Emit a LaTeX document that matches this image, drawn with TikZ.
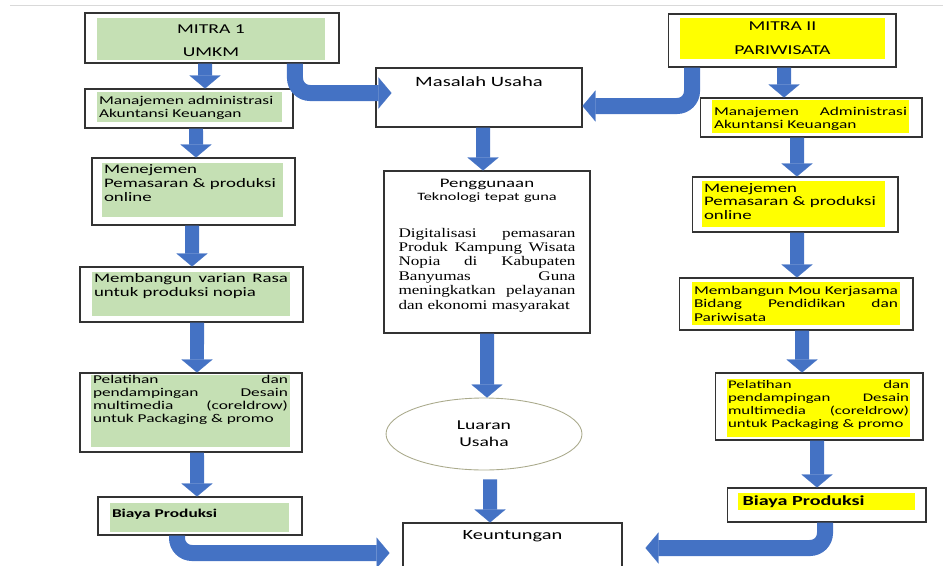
\documentclass[tikz,border=0pt]{standalone}
\usepackage{fontspec}
\setmainfont{Carlito}[FakeStretch=1.45]
\newfontfamily\bodyserif{Liberation Serif}[FakeStretch=1.3]
\usetikzlibrary{shapes.geometric,arrows.meta}
\definecolor{umkmgreen}{RGB}{197,224,180}
\definecolor{wisatayellow}{RGB}{255,255,0}
\definecolor{flowblue}{RGB}{68,114,196}
\definecolor{ringgray}{RGB}{170,170,140}
\tolerance=10000
\hbadness=10000
\tikzset{
  frame/.style={shape=rectangle,draw=black!80,fill=white,line width=0.6pt,inner sep=0pt},
  hilite/.style={shape=rectangle,inner xsep=0.04cm,inner ysep=0pt,align=justify,font=\fontsize{6.8}{7.5}\selectfont},
  flow/.style={draw=flowblue,line width=0.28cm,-{Triangle[width=0.62cm,length=0.26cm,line width=0.1pt]}},
  bentflow/.style={flow,line width=0.32cm,rounded corners=0.3cm},
}

\begin{document}
\begin{tikzpicture}[x=0.02cm,y=-0.02cm]
\useasboundingbox (0,0) rectangle (943,565);
\draw[black!15,line width=0.4pt] (10,5) -- (943,5);

\node[frame,minimum width=5.08cm,minimum height=1.00cm] (0) at (212,38) {};
\node[hilite,fill=umkmgreen,text width=4.48cm,text height=0.30cm,text depth=0.54cm,align=center,font=\fontsize{7.7}{13.6}\selectfont] (0t) at (211,39) {MITRA 1\\UMKM};
\node[frame,minimum width=4.16cm,minimum height=0.78cm] (1) at (189,108.5) {};
\node[hilite,fill=umkmgreen,text width=3.62cm,text height=0.24cm,text depth=0.36cm,align=left,font=\fontsize{6.8}{7.9}\selectfont] (1t) at (189.5,107) {Manajemen administrasi\\Akuntansi Keuangan};
\node[frame,minimum width=4.06cm,minimum height=1.34cm] (2) at (193.5,191.5) {};
\node[hilite,fill=umkmgreen,text width=3.54cm,text height=0.20cm,text depth=0.88cm,align=left,font=\fontsize{7.4}{8.2}\selectfont] (2t) at (192.5,190) {Menejemen\\Pemasaran \& produksi\\online};
\node[frame,minimum width=4.46cm,minimum height=1.10cm] (3) at (191.5,294.5) {};
\node[hilite,fill=umkmgreen,text width=3.88cm,text height=0.20cm,text depth=0.68cm,font=\fontsize{7.4}{8.2}\selectfont] (3t) at (191,294) {Membangun varian Rasa\linebreak untuk produksi nopia};
\node[frame,minimum width=4.44cm,minimum height=1.58cm] (4) at (191,412.5) {};
\node[hilite,fill=umkmgreen,text width=3.90cm,text height=0.16cm,text depth=1.28cm] (4t) at (190.5,411) {Pelatihan dan\linebreak pendampingan Desain\linebreak multimedia (coreldrow)\linebreak untuk Packaging \& promo};
\node[frame,minimum width=4.08cm,minimum height=0.76cm] (5) at (200,516) {};
\node[hilite,fill=umkmgreen,text width=3.50cm,text height=0.28cm,text depth=0.30cm,align=left,font=\bfseries\fontsize{6.8}{8}\selectfont] (5t) at (199.5,517.5) {Biaya Produksi};

\node[frame,minimum width=4.12cm,minimum height=1.18cm,text height=0.36cm,text depth=0.82cm,font=\fontsize{8.1}{9}\selectfont] (6) at (479,97.5) {Masalah Usaha};
\node[frame,minimum width=4.12cm,minimum height=3.24cm] (7) at (487,252) {};
\node[anchor=base,inner sep=0pt,text width=3.54cm,align=center,font=\fontsize{7.4}{7.9}\selectfont] (7t) at (487,187) {Penggunaan\\{\fontsize{6.4}{7.9}\selectfont Teknologi tepat guna}};
\node[anchor=base,inner sep=0pt,text width=3.54cm,align=justify,font=\bodyserif\fontsize{7.5}{8.2}\selectfont] (7b) at (487,237) {Digitalisasi pemasaran\linebreak Produk Kampung Wisata\linebreak Nopia di Kabupaten\linebreak Banyumas Guna\linebreak meningkatkan pelayanan\linebreak dan ekonomi masyarakat};
\node[ellipse,draw=ringgray,line width=0.5pt,minimum width=3.92cm,minimum height=1.44cm,inner sep=0pt,align=center,font=\fontsize{7.7}{9.6}\selectfont] (8) at (484,434) {Luaran\\Usaha};
\node[frame,minimum width=4.38cm,minimum height=1.20cm,text height=0.32cm,text depth=0.88cm,font=\fontsize{8}{9}\selectfont] (9) at (512.5,553) {Keuntungan};

\node[frame,minimum width=4.56cm,minimum height=1.06cm] (10) at (782,40.5) {};
\node[hilite,fill=wisatayellow,text width=4.02cm,text height=0.24cm,text depth=0.58cm,align=center,font=\fontsize{7.7}{14.2}\selectfont] (10t) at (782.5,38.5) {MITRA II\\PARIWISATA};
\node[frame,minimum width=4.44cm,minimum height=0.78cm] (11) at (811,117.5) {};
\node[hilite,fill=wisatayellow,text width=3.86cm,text height=0.30cm,text depth=0.36cm,font=\fontsize{6.8}{7.4}\selectfont] (11t) at (810.5,116.5) {Manajemen Administrasi\linebreak Akuntansi Keuangan};
\node[frame,minimum width=4.12cm,minimum height=1.10cm] (12) at (795,204.5) {};
\node[hilite,fill=wisatayellow,text width=3.58cm,text height=0.22cm,text depth=0.70cm,align=left,font=\fontsize{7.4}{7.8}\selectfont] (12t) at (793.5,204) {Menejemen\\Pemasaran \& produksi\\online};
\node[frame,minimum width=4.68cm,minimum height=1.04cm] (13) at (796,304) {};
\node[hilite,fill=wisatayellow,text width=4.08cm,text height=0.24cm,text depth=0.62cm,font=\fontsize{6.8}{7.7}\selectfont] (13t) at (796,303.5) {Membangun Mou Kerjasama\linebreak Bidang Pendidikan dan\linebreak Pariwisata};
\node[frame,minimum width=4.16cm,minimum height=1.34cm] (14) at (819,406.5) {};
\node[hilite,fill=wisatayellow,inner xsep=0.02cm,text width=3.62cm,text height=0.18cm,text depth=0.98cm,font=\fontsize{6.6}{7.5}\selectfont] (14t) at (818.5,408) {Pelatihan dan\linebreak pendampingan Desain\linebreak multimedia (coreldrow)\linebreak untuk Packaging \& promo};
\node[frame,minimum width=3.98cm,minimum height=0.68cm] (15) at (826.5,505) {};
\node[hilite,fill=wisatayellow,text width=3.46cm,text height=0.24cm,text depth=0.10cm,align=left,font=\bfseries\fontsize{7.9}{9}\selectfont] (15t) at (826.5,501.5) {\hspace{0.05cm}Biaya Produksi};

\draw[flow] ([xshift=-0.14cm]0.south) -- ([xshift=0.32cm]1.north);
\draw[flow] ([xshift=0.14cm]1.south) -- ([xshift=0.05cm]2.north);
\draw[flow] ([xshift=-0.03cm]2.south) -- ([xshift=0.01cm]3.north);
\draw[flow] ([xshift=0.11cm]3.south) -- ([xshift=0.12cm]4.north);
\draw[flow] ([xshift=0.12cm]4.south) -- ([xshift=-0.06cm]5.north);
\draw[flow] ([xshift=0.08cm]6.south) -- ([xshift=-0.08cm]7.north);
\draw[flow] (7.south) -- ([xshift=0.06cm]8.north);
\draw[flow,shorten <=0.18cm] ([xshift=0.12cm]8.south) -- ([xshift=-0.45cm]9.north);
\draw[flow] ([xshift=0.04cm]10.south) -- ([xshift=-0.54cm]11.north);
\draw[flow] ([xshift=-0.28cm]11.south) -- ([xshift=0.04cm]12.north);
\draw[flow] ([xshift=0.04cm]12.south) -- ([xshift=0.02cm]13.north);
\draw[flow] ([xshift=0.12cm]13.south) -- ([xshift=-0.34cm]14.north);
\draw[flow] ([xshift=-0.04cm]14.south) -- ([xshift=-0.19cm]15.north);

\draw[bentflow] ([xshift=1.66cm]0.south) |- ([xshift=0.32cm,yshift=0.09cm]6.west);
\draw[bentflow] ([xshift=-1.80cm]10.south) |- ([yshift=-0.17cm]6.east);
\draw[bentflow] ([xshift=-0.46cm]5.south) |- ([xshift=-0.26cm]9.west);
\draw[bentflow] ([xshift=-0.03cm]15.south) |- ([xshift=0.46cm,yshift=0.10cm]9.east);
\end{tikzpicture}
\end{document}
